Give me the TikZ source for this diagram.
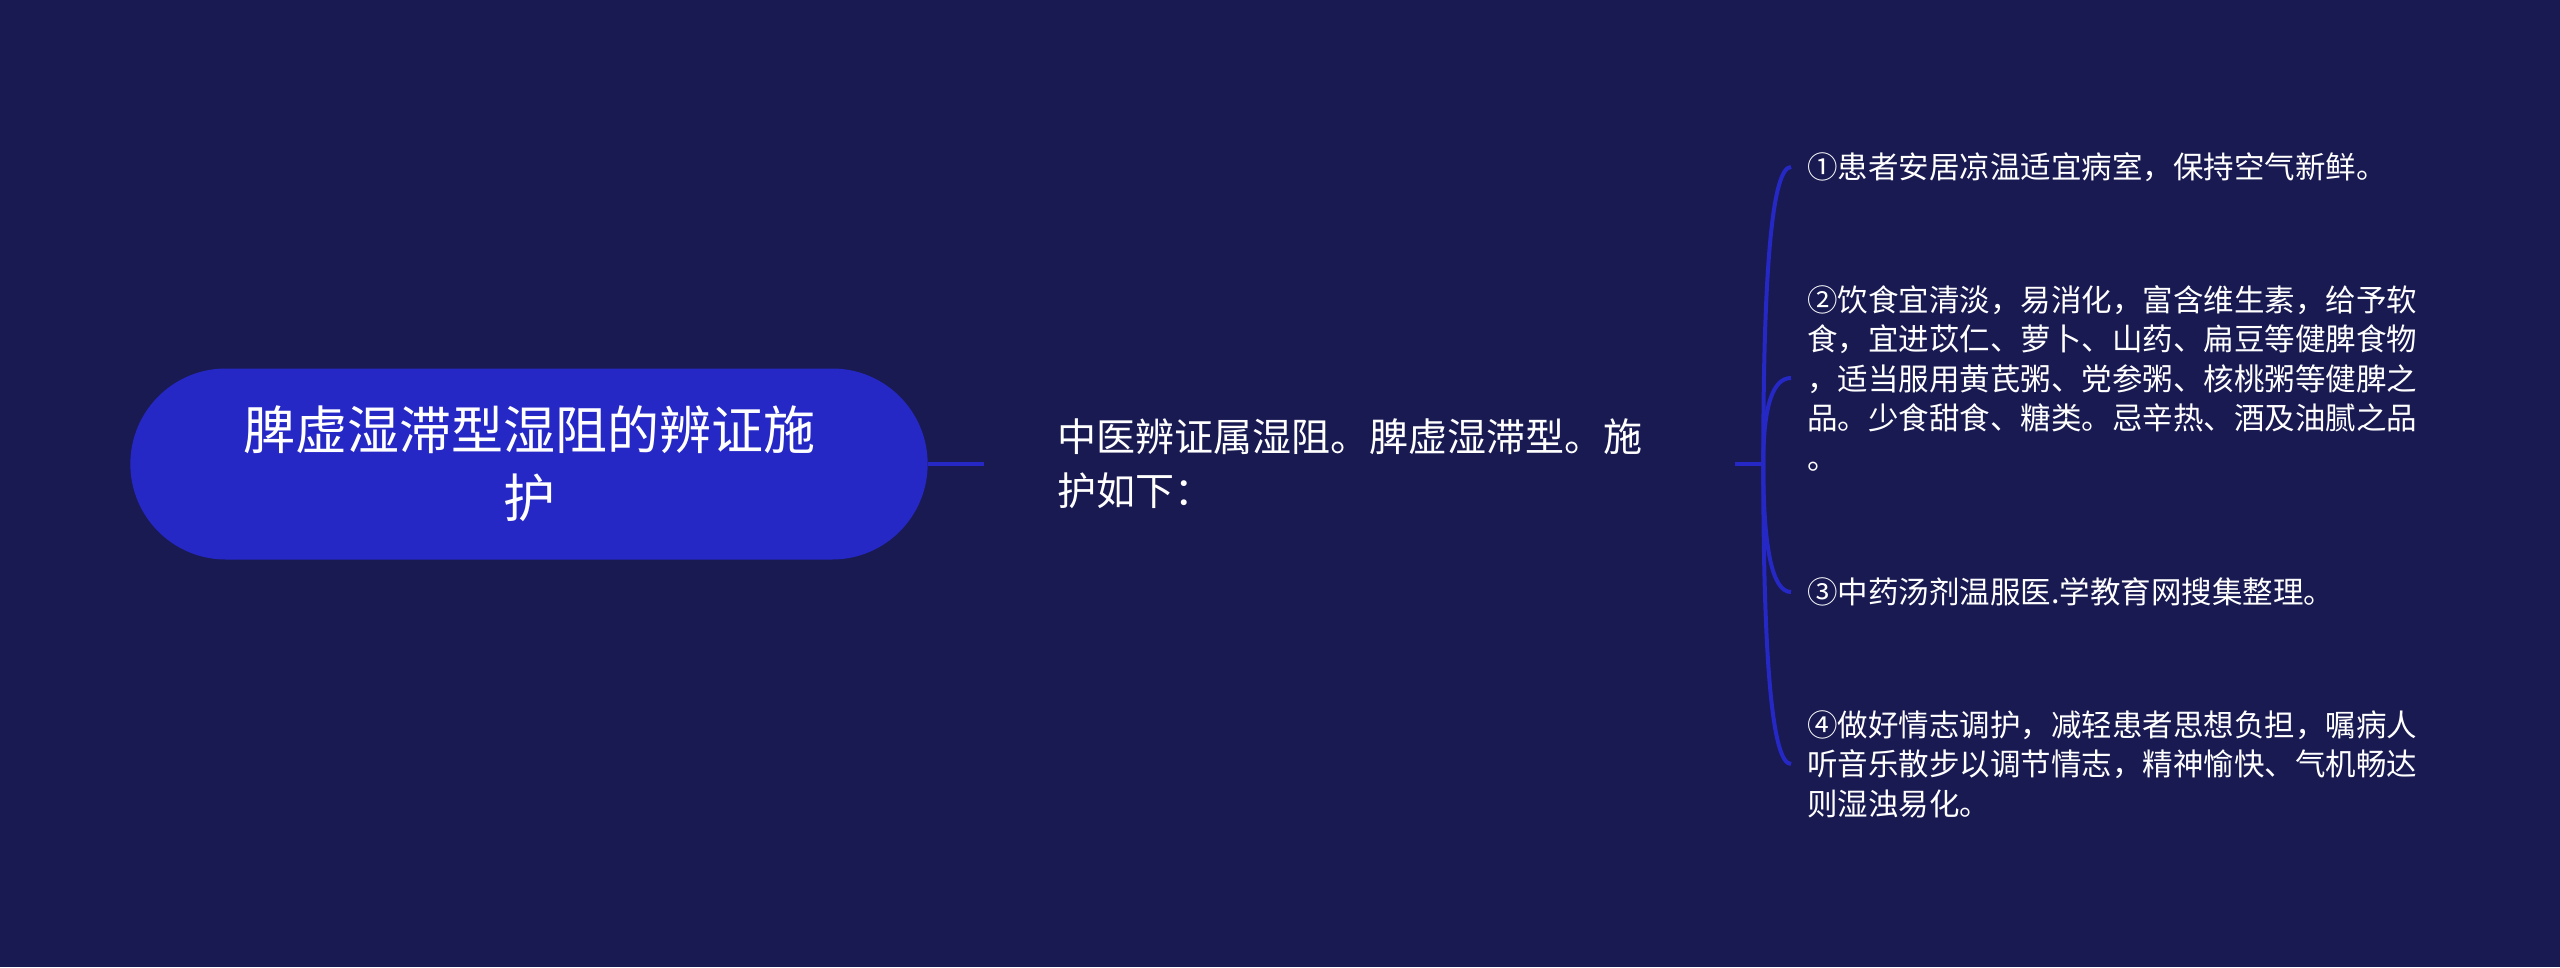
\documentclass[tikz,border=0pt]{standalone}
\usepackage{fontspec}
\setmainfont{Noto Sans CJK SC}
\usepackage{tikz}
\usetikzlibrary{shapes.misc, positioning, calc}
\definecolor{mapbg}{RGB}{25,26,82}
\definecolor{mapblue}{RGB}{38,40,198}

\begin{document}
\begin{tikzpicture}[x=1pt, y=-1pt, rootnode/.style={rounded rectangle, fill=mapblue, text=white, minimum width=804pt, minimum height=191pt, align=center, font=\fontsize{52}{68}\selectfont}, midnode/.style={draw=none, fill=none, text=white, text width=605pt, inner xsep=73pt, align=left, font=\fontsize{39}{54}\selectfont}, leafnode/.style={draw=none, fill=none, text=white, anchor=west, inner xsep=16pt, align=left, font=\fontsize{30.5}{39.5}\selectfont}, link/.style={draw=mapblue, line width=4pt}]

    %Background
    \fill[mapbg] (0,0) rectangle (2560,967);

    %Nodes
    \node[rootnode](root) at (529,464){脾虚湿滞型湿阻的辨证施\\护};
    \node[midnode](diag)[right=56pt of root]{中医辨证属湿阻。脾虚湿滞型。施\\护如下：};
    \coordinate[right=28pt of diag](fork);
    \node[leafnode](care1) at (1791,167){①患者安居凉温适宜病室，保持空气新鲜。};
    \node[leafnode](care2) at (1791,378){②饮食宜清淡，易消化，富含维生素，给予软\\食，宜进苡仁、萝卜、山药、扁豆等健脾食物\\，适当服用黄芪粥、党参粥、核桃粥等健脾之\\品。少食甜食、糖类。忌辛热、酒及油腻之品\\。};
    \node[leafnode](care3) at (1791,592){③中药汤剂温服医.学教育网搜集整理。};
    \node[leafnode](care4) at (1791,764){④做好情志调护，减轻患者思想负担，嘱病人\\听音乐散步以调节情志，精神愉快、气机畅达\\则湿浊易化。};

    %Lines
    \draw[link] (root.east) -- (diag.west);
    \draw[link] (diag.east) -- (fork);
    \draw[link] (fork) .. controls ($(fork)!0.667!(fork |- care1.west)$) and ($(care1.west)!0.667!(fork |- care1.west)$) .. (care1.west);
    \draw[link] (fork) .. controls ($(fork)!0.667!(fork |- care2.west)$) and ($(care2.west)!0.667!(fork |- care2.west)$) .. (care2.west);
    \draw[link] (fork) .. controls ($(fork)!0.667!(fork |- care3.west)$) and ($(care3.west)!0.667!(fork |- care3.west)$) .. (care3.west);
    \draw[link] (fork) .. controls ($(fork)!0.667!(fork |- care4.west)$) and ($(care4.west)!0.667!(fork |- care4.west)$) .. (care4.west);

\end{tikzpicture}
\end{document}
